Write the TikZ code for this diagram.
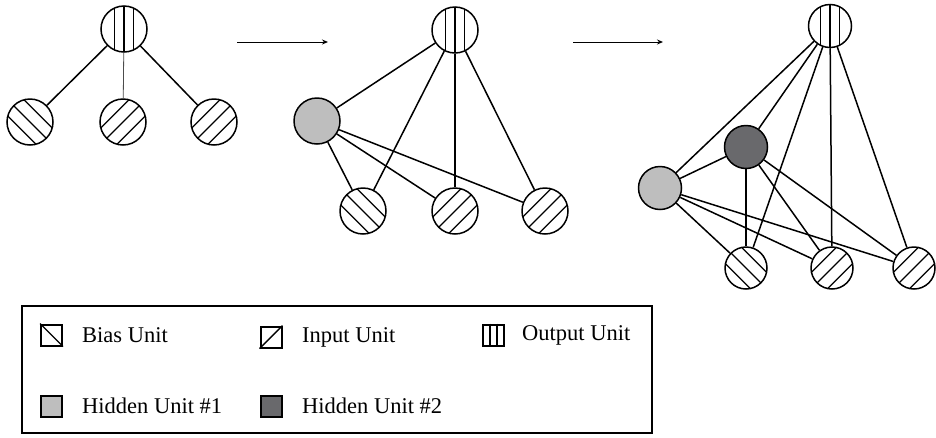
\documentclass[tikz,border=0pt]{standalone}
\usepackage{fontspec}
\setmainfont{Liberation Serif}
\usetikzlibrary{arrows.meta,calc}

\definecolor{hidA}{RGB}{190,190,190}
\definecolor{hidB}{RGB}{105,105,108}

\tikzset{
  unit/.style={circle, draw=black, line width=1.5pt, fill=white,
               minimum size=#1, inner sep=0pt},
  unit/.default=46pt,
  % vertical stripes
  outunit/.style={path picture={
      \foreach \d in {-9.5,0,9.5}
        \draw[line width=1.4pt]
          ([xshift=\d pt, yshift=-30pt]path picture bounding box.center) -- ++(0pt,60pt);}},
  % stripes rising to the right
  inunit/.style={path picture={
      \foreach \d/\e in {-11.5/11.5,0/0,11.5/-11.5}
        \draw[line width=1.3pt]
          ([xshift=\d*0.7071pt-30pt, yshift=\e*0.7071pt-30pt]path picture bounding box.center) -- ++(60pt,60pt);}},
  % stripes falling to the right
  biasunit/.style={path picture={
      \foreach \d in {-11.5,0,11.5}
        \draw[line width=1.3pt]
          ([xshift=\d*0.7071pt-30pt, yshift=\d*0.7071pt+30pt]path picture bounding box.center) -- ++(60pt,-60pt);}},
  hidone/.style={fill=hidA},
  hidtwo/.style={fill=hidB},
  link/.style={line width=1.5pt},
  thinlink/.style={line width=0.8pt, black!70},
  growth/.style={line width=1pt, -{Stealth[length=6pt,width=5pt]}},
  legsq/.style={rectangle, draw=black, line width=2pt, fill=white,
                minimum size=21pt, inner sep=0pt},
  legtext/.style={anchor=west, inner sep=0pt,
                  font=\fontsize{22.5}{25}\selectfont}
}

\begin{document}
\begin{tikzpicture}[x=1pt,y=-1pt]
\useasboundingbox (0,0) rectangle (936,437);

% --- first network: output with bias and two inputs
\node[unit, outunit]  (O1)  at (124,29)  {};
\node[unit, biasunit] (B1)  at (30,122)  {};
\node[unit, inunit]   (I1a) at (123,122) {};
\node[unit, inunit]   (I1b) at (214,122) {};
\draw[link] (O1) -- (B1);
\draw[thinlink] (O1) -- (I1a);
\draw[link] (O1) -- (I1b);

% --- growth arrows
\coordinate (a1s) at (237,42);
\coordinate (a1e) at (328,42);
\coordinate (a2s) at (573,42);
\coordinate (a2e) at (663,42);
\draw[growth] (a1s) -- (a1e);
\draw[growth] (a2s) -- (a2e);

% --- second network: one hidden unit added
\node[unit, outunit]  (O2)  at (455,30)  {};
\node[unit, hidone]   (H2)  at (317,121) {};
\node[unit, biasunit] (B2)  at (363,211) {};
\node[unit, inunit]   (I2a) at (455,211) {};
\node[unit, inunit]   (I2b) at (545,211) {};
\foreach \t in {H2,B2,I2a,I2b} \draw[link] (O2) -- (\t);
\foreach \t in {B2,I2a,I2b} \draw[link] (H2) -- (\t);

% --- third network: second hidden unit added
\node[unit=43pt, outunit]  (O3)  at (830,26)  {};
\node[unit=43pt, hidtwo]   (H3b) at (746,147) {};
\node[unit=43pt, hidone]   (H3a) at (660,188) {};
\node[unit=42pt, biasunit] (B3)  at (746,268) {};
\node[unit=42pt, inunit]   (I3a) at (832,268) {};
\node[unit=42pt, inunit]   (I3b) at (914,268) {};
\foreach \t in {H3a,H3b,B3,I3a,I3b} \draw[link] (O3) -- (\t);
\foreach \t in {H3a,B3,I3a,I3b} \draw[link] (H3b) -- (\t);
\foreach \t in {B3,I3a,I3b} \draw[link] (H3a) -- (\t);

% --- legend
\node[draw=black, line width=2.4pt, rectangle, inner sep=0pt,
      minimum width=630pt, minimum height=127pt] (leg) at (337,369.5) {};

\node[legsq] (lb) at (51.5,335) {};
\draw[line width=1.4pt] (lb.north west) -- (lb.south east);
\node[legtext] (tb) at (82,335) {Bias Unit};

\node[legsq] (li) at (271,337) {};
\draw[line width=1.4pt] (li.south west) -- (li.north east);
\node[legtext] (ti) at (302,337) {Input Unit};

\node[legsq] (lo) at (493.5,335) {};
\draw[line width=1.8pt] ($(lo.north west)!1/3!(lo.north east)$) -- ($(lo.south west)!1/3!(lo.south east)$);
\draw[line width=1.8pt] ($(lo.north west)!2/3!(lo.north east)$) -- ($(lo.south west)!2/3!(lo.south east)$);
\node[legtext] (to) at (522,335) {Output Unit};

\node[legsq, fill=hidA] (lh1) at (51.5,406) {};
\node[legtext] (th1) at (82,406) {Hidden Unit \#1};

\node[legsq, fill=hidB] (lh2) at (271,406) {};
\node[legtext] (th2) at (302,406) {Hidden Unit \#2};
\end{tikzpicture}
\end{document}
